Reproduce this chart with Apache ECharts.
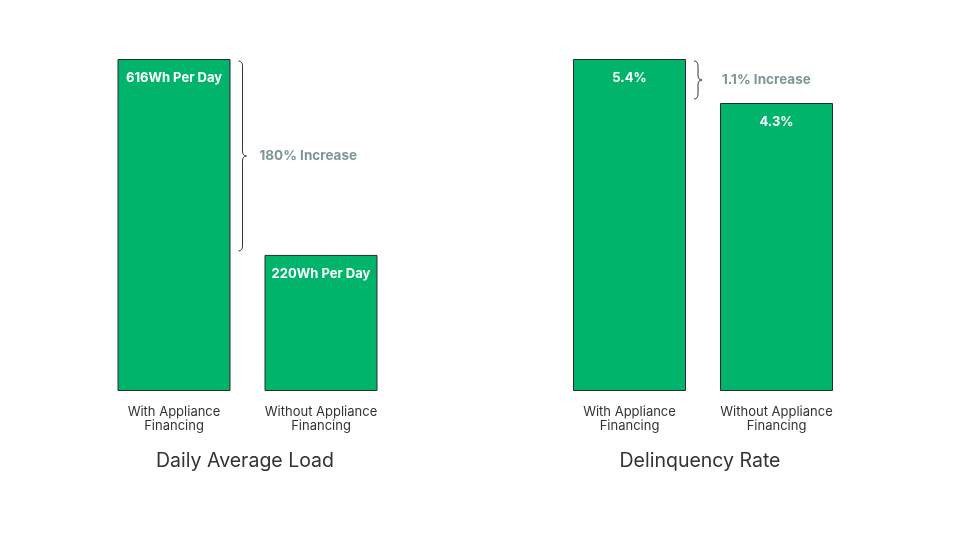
<!DOCTYPE html>
<html>
<head>
<meta charset="utf-8">
<script src="https://cdn.jsdelivr.net/npm/echarts@6/dist/echarts.min.js"></script>
<style>
html,body{margin:0;padding:0;background:#fff;}
#chart{width:960px;height:540px;}
</style>
</head>
<body>
<div id="chart"></div>
<script>
const categories = ['With Appliance\nFinancing', 'Without Appliance\nFinancing'];
const loadValues = [616, 220];
const delinquencyValues = [5.4, 4.3];
const chartTitles = ['Daily Average Load', 'Delinquency Rate'];
const increaseLabels = ['180% Increase', '1.1% Increase'];

const FONT = 'Inter, "Noto Sans", sans-serif';
const GREEN = '#00b46b';
const BORDER = '#2b2b2b';

function braceRender(label, gap) {
  return function (params, api) {
    const p1 = api.coord([api.value(0), api.value(1)]);
    const p2 = api.coord([api.value(0), api.value(2)]);
    const x = p1[0] + 56.5 + 8;
    const y1 = p1[1] + 2;
    const y2 = p2[1] - 4;
    const ym = (y1 + y2) / 2;
    const w = 8, h = w / 2, r = 5;
    const d = 'M' + x + ',' + y1 +
      ' Q' + (x + h) + ',' + y1 + ' ' + (x + h) + ',' + (y1 + r) +
      ' L' + (x + h) + ',' + (ym - r) +
      ' Q' + (x + h) + ',' + ym + ' ' + (x + w) + ',' + ym +
      ' Q' + (x + h) + ',' + ym + ' ' + (x + h) + ',' + (ym + r) +
      ' L' + (x + h) + ',' + (y2 - r) +
      ' Q' + (x + h) + ',' + y2 + ' ' + x + ',' + y2;
    return {
      type: 'group',
      children: [
        { type: 'path', shape: { pathData: d }, style: { fill: 'none', stroke: '#333', lineWidth: 1 } },
        { type: 'text', style: { text: label, x: x + w + gap, y: ym, verticalAlign: 'middle', align: 'left',
          fill: '#7d9697', font: 'bold 13.5px ' + FONT } }
      ]
    };
  };
}

const chart = echarts.init(document.getElementById('chart'));
const catAxis = (gi) => ({
  type: 'category', gridIndex: gi, data: categories,
  axisLine: { show: false }, axisTick: { show: false },
  axisLabel: { margin: 14, color: '#333', fontFamily: FONT, fontSize: 13, lineHeight: 14 }
});
const barSeries = (idx, data, fmt) => ({
  type: 'bar', xAxisIndex: idx, yAxisIndex: idx, data: data, barWidth: 113,
  itemStyle: { color: GREEN, borderColor: BORDER, borderWidth: 1 },
  label: { show: true, position: 'insideTop', distance: 13, color: '#fff', fontWeight: 'bold',
    fontFamily: FONT, fontSize: 13, formatter: fmt },
  silent: true
});

chart.setOption({
  animation: false,
  title: [
    { text: chartTitles[0], left: 240, top: 446, textAlign: 'center',
      textStyle: { fontFamily: FONT, fontSize: 19.5, fontWeight: 'normal', color: '#333' } },
    { text: chartTitles[1], left: 695, top: 446, textAlign: 'center',
      textStyle: { fontFamily: FONT, fontSize: 19.5, fontWeight: 'normal', color: '#333' } }
  ],
  grid: [
    { left: 100.5, width: 294, top: 59, bottom: 149 },
    { left: 556, width: 294, top: 59, bottom: 149 }
  ],
  xAxis: [catAxis(0), catAxis(1)],
  yAxis: [
    { type: 'value', gridIndex: 0, min: -55, max: 616, startValue: -55, show: false, splitLine: { show: false } },
    { type: 'value', gridIndex: 1, min: -2.9, max: 5.4, startValue: -2.9, show: false, splitLine: { show: false } }
  ],
  series: [
    barSeries(0, loadValues, '{c}Wh Per Day'),
    barSeries(1, delinquencyValues, '{c}%'),
    { type: 'custom', xAxisIndex: 0, yAxisIndex: 0, clip: false, silent: true,
      data: [[0, loadValues[0], loadValues[1]]], renderItem: braceRender(increaseLabels[0], 13) },
    { type: 'custom', xAxisIndex: 1, yAxisIndex: 1, clip: false, silent: true,
      data: [[0, delinquencyValues[0], delinquencyValues[1]]], renderItem: braceRender(increaseLabels[1], 20) }
  ]
});
</script>
</body>
</html>
